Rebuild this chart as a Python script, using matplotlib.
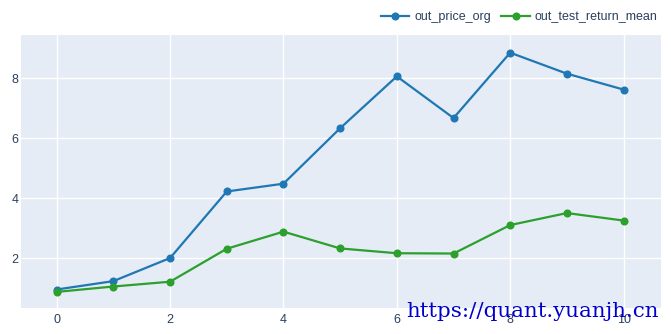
import matplotlib
matplotlib.use("Agg")
import matplotlib.pyplot as plt

x = [0, 1, 2, 3, 4, 5, 6, 7, 8, 9, 10]
out_price_org = [0.95, 1.23, 2.00, 4.22, 4.48, 6.33, 8.06, 6.67, 8.85, 8.15, 7.62]
out_test_return_mean = [0.87, 1.05, 1.21, 2.31, 2.88, 2.32, 2.16, 2.15, 3.10, 3.50, 3.25]
series_names = ["out_price_org", "out_test_return_mean"]
colors = ["#1f77b4", "#2ca02c"]
xticks = [0, 2, 4, 6, 8, 10]
yticks = [2, 4, 6, 8]

plt.rcParams['font.family'] = ['Liberation Sans', 'DejaVu Sans']

W, H = 671, 334
fig = plt.figure(figsize=(W / 100, H / 100), dpi=100)
fig.patch.set_facecolor("white")
ax = fig.add_axes([21 / W, (H - 308) / H, 640 / W, 273 / H])
ax.set_facecolor("#E5ECF6")

for ys, name, c in zip([out_price_org, out_test_return_mean], series_names, colors):
    ax.plot(x, ys, color=c, lw=1.6, marker="o", markersize=4.8, label=name, zorder=3)

ax.set_xlim(-0.63, 10.66)
ax.set_ylim(0.333, 9.44)
ax.set_xticks(xticks)
ax.set_yticks(yticks)
ax.grid(True, color="white", lw=1.0, zorder=0)
ax.set_axisbelow(True)
for s in ax.spines.values():
    s.set_visible(False)
ax.tick_params(axis="both", length=0, labelsize=9, labelcolor="#2a3f5f")
ax.tick_params(axis="y", pad=2)
ax.tick_params(axis="x", pad=4)

leg = fig.legend(loc="upper right", bbox_to_anchor=(669 / W, 1.0), ncol=2, frameon=False,
                 fontsize=9, handlelength=2.3, handletextpad=0.4, columnspacing=0.8,
                 borderaxespad=0.5, labelcolor="#2a3f5f")

fig.text(659 / W, (H - 317) / H, "https://quant.yuanjh.cn", ha="right", va="baseline",
         fontsize=15.4, color="#0000CD", family="DejaVu Serif", zorder=10)

fig.savefig("out.png", dpi=100)
